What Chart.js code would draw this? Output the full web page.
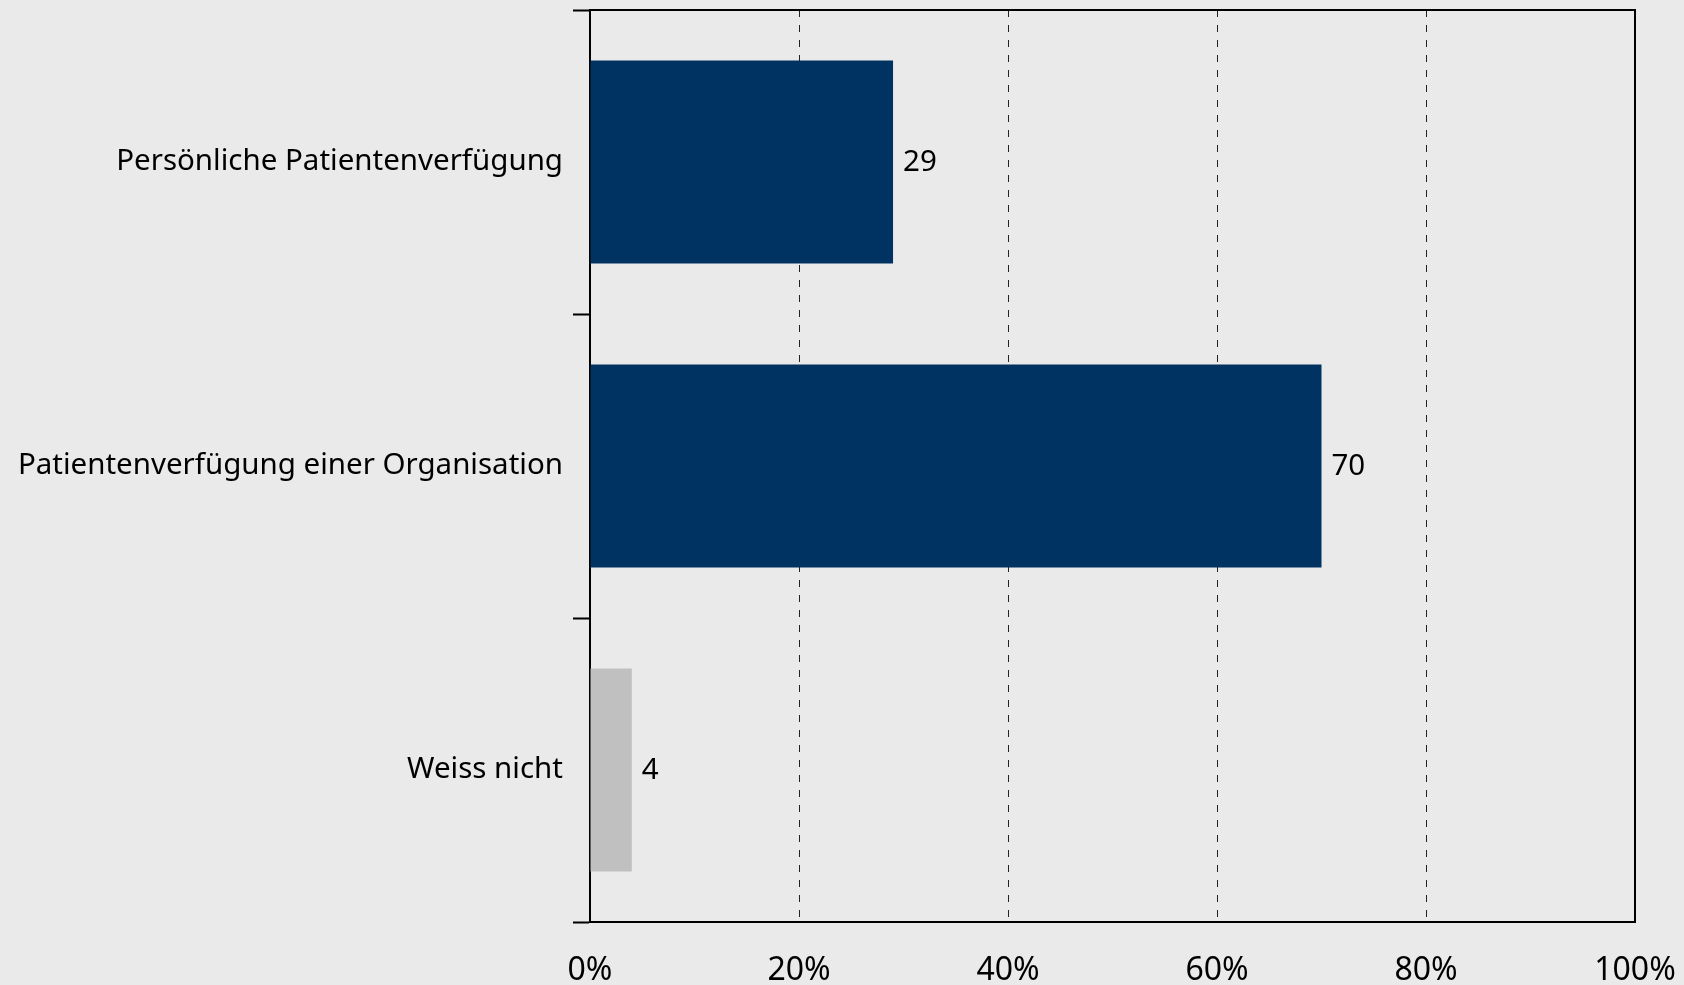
<!DOCTYPE html>
<html>
<head>
<meta charset="utf-8">
<script src="https://cdn.jsdelivr.net/npm/chart.js@4.4.1/dist/chart.umd.min.js"></script>
<style>
  html, body { margin: 0; padding: 0; background: #EAEAEA; }
  #wrap { width: 1684px; height: 985px; }
</style>
</head>
<body>
<div id="wrap"><canvas id="c" width="1684" height="985"></canvas></div>
<script>
const categories = ['Persönliche Patientenverfügung', 'Patientenverfügung einer Organisation', 'Weiss nicht'];
const values = [29, 70, 4];
const barColors = ['#003362', '#003362', '#C0C0C0'];
const xTicks = [0, 20, 40, 60, 80, 100];

const FONT = '"Noto Sans", sans-serif';
const FS = 29.5;
const FS_X = 32;

const bgPlugin = {
  id: 'bg',
  beforeDraw(chart) {
    const ctx = chart.ctx;
    ctx.save();
    ctx.fillStyle = '#EAEAEA';
    ctx.fillRect(0, 0, chart.width, chart.height);
    ctx.restore();
  }
};

const framePlugin = {
  id: 'frame',
  afterDraw(chart) {
    const a = chart.chartArea;
    const ctx = chart.ctx;
    ctx.save();
    ctx.strokeStyle = '#000';
    ctx.lineWidth = 2;
    ctx.beginPath();
    ctx.moveTo(a.left, a.top);
    ctx.lineTo(a.right, a.top);
    ctx.lineTo(a.right, a.bottom);
    ctx.stroke();
    ctx.restore();
  }
};

const labelPlugin = {
  id: 'vals',
  afterDatasetsDraw(chart) {
    const ctx = chart.ctx;
    const meta = chart.getDatasetMeta(0);
    ctx.save();
    ctx.font = FS + 'px ' + FONT;
    ctx.fillStyle = '#000';
    ctx.textAlign = 'left';
    ctx.textBaseline = 'middle';
    meta.data.forEach((el, i) => {
      ctx.fillText(String(values[i]), el.x + 10, el.y + 1);
    });
    ctx.restore();
  }
};

new Chart(document.getElementById('c'), {
  type: 'bar',
  data: {
    labels: categories,
    datasets: [{
      data: values,
      backgroundColor: barColors,
      borderWidth: 0,
      categoryPercentage: 1,
      barPercentage: 0.667
    }]
  },
  options: {
    indexAxis: 'y',
    responsive: false,
    animation: false,
    devicePixelRatio: 1,
    layout: { padding: { left: 0, top: 10, right: 49, bottom: 0 } },
    plugins: { legend: { display: false }, tooltip: { enabled: false } },
    scales: {
      x: {
        type: 'linear',
        position: 'bottom',
        min: 0, max: 100,
        afterBuildTicks(scale) { scale.ticks = xTicks.map(v => ({ value: v })); },
        ticks: {
          callback: v => v + '%',
          color: '#000',
          font: { family: FONT, size: FS_X },
          padding: 30,
          maxRotation: 0
        },
        grid: { color: '#222', lineWidth: 1, drawTicks: false },
        border: { display: true, color: '#000', width: 2, dash: [7, 8] },
        afterFit(scale) {
          scale.height = 63;
          scale.paddingLeft = 0; scale.paddingRight = 0;
          scale.paddingTop = 0; scale.paddingBottom = 0;
        }
      },
      y: {
        type: 'category',
        position: 'left',
        offset: true,
        ticks: {
          color: '#000',
          font: { family: FONT, size: FS },
          padding: 10
        },
        grid: { offset: true, drawOnChartArea: false, drawTicks: true, tickLength: 17, tickWidth: 2, tickColor: '#000', color: '#000' },
        border: { display: true, color: '#000', width: 2 },
        afterFit(scale) {
          scale.width = 590;
          scale.paddingLeft = 0; scale.paddingRight = 0;
          scale.paddingTop = 0; scale.paddingBottom = 0;
        }
      }
    }
  },
  plugins: [bgPlugin, labelPlugin, framePlugin]
});
</script>
</body>
</html>
